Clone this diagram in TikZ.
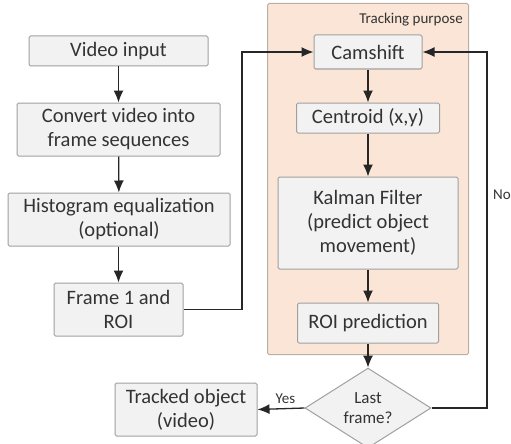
\documentclass[tikz,border=0pt]{standalone}
\usepackage{fontspec}
\setmainfont{Carlito}
\usepackage{tikz}
\usetikzlibrary{positioning, shapes.geometric, arrows.meta}
\usepackage{xcolor}
\definecolor{texto}{HTML}{333333}
\definecolor{caja}{HTML}{F2F2F2}
\definecolor{borde}{HTML}{A0A0A0}
\definecolor{zona}{HTML}{FBE5D6}
\definecolor{bordezona}{HTML}{B8AFA8}

\tikzset{
	paso/.style={
		draw=borde,
		fill=caja,
		rounded corners=1.5pt,
		line width=1pt,
		align=center,
		inner sep=0pt,
		text=texto,
		font=\fontsize{20.5}{24}\selectfont
	},
	decision/.style={
		diamond,
		draw=borde,
		fill=caja,
		line width=1pt,
		align=center,
		inner sep=0pt,
		text=texto,
		font=\fontsize{17}{20}\selectfont
	},
	flecha/.style={
		line width=1.3pt,
		draw=black!85,
		-{Latex[length=12pt,width=10pt]}
	},
	etiqueta/.style={
		text=texto,
		font=\fontsize{15}{18}\selectfont,
		inner sep=0pt
	}
}

\begin{document}
\begin{tikzpicture}[x=1pt, y=-1pt]
	
	\useasboundingbox (0,0) rectangle (511,444);
	
	% Zona de seguimiento
	\node[
	draw=bordezona,
	fill=zona,
	rounded corners=1.5pt,
	line width=1pt,
	minimum width=201pt,
	minimum height=351pt,
	anchor=north west
	] (zona) at (267,3) {};
	\node[etiqueta, anchor=north east] (titulo) at (463,13) {Tracking purpose};
	
	% Columna izquierda
	\node[paso, minimum width=179pt, minimum height=30pt] (vin) at (118.5,51) {Video input};
	\node[paso, minimum width=203pt, minimum height=53pt] (conv) at (118.5,129.5) {Convert video into\\frame sequences};
	\node[paso, minimum width=222pt, minimum height=53pt] (hist) at (119,219.5) {Histogram equalization\\(optional)};
	\node[paso, minimum width=129pt, minimum height=53pt] (frame) at (118.5,309.5) {Frame 1 and\\ROI};
	\node[paso, minimum width=142pt, minimum height=53pt] (tracked) at (186,409.5) {Tracked object\\(video)};
	
	% Columna derecha
	\node[paso, minimum width=108pt, minimum height=34pt] (cam) at (368,52) {Camshift};
	\node[paso, minimum width=143pt, minimum height=30pt] (cent) at (368,118) {Centroid (x,y)};
	\node[paso, minimum width=180pt, minimum height=92pt] (kal) at (368,223) {Kalman Filter\\(predict object\\movement)};
	\node[paso, minimum width=141pt, minimum height=40pt] (roip) at (368,323) {ROI prediction};
	\node[decision, minimum width=126pt, minimum height=63pt] (last) at (368,408) {Last\\frame?};
	
	% Esquinas de los lazos
	\coordinate (sube) at (242,309.5);
	\coordinate (vuelve) at (487,408);
	
	% Flechas
	\draw[flecha] (vin) -- (conv);
	\draw[flecha] (conv) -- (hist);
	\draw[flecha] (hist.south -| frame) -- (frame);
	\draw[flecha] (frame.east) -- (sube) |- (cam.west);
	\draw[flecha] (cam) -- (cent);
	\draw[flecha] (cent) -- (kal);
	\draw[flecha] (kal) -- (roip);
	\draw[flecha] (roip) -- (last);
	\draw[flecha] (last.west) -- (tracked.east);
	\draw[flecha] (last.east) -- (vuelve) |- (cam.east);
	
	% Etiquetas
	\node[etiqueta, above left=4pt and 9pt of last.west] (si) {Yes};
	\node[etiqueta, anchor=west] (no) at (493,195) {No};
	
\end{tikzpicture}
\end{document}
